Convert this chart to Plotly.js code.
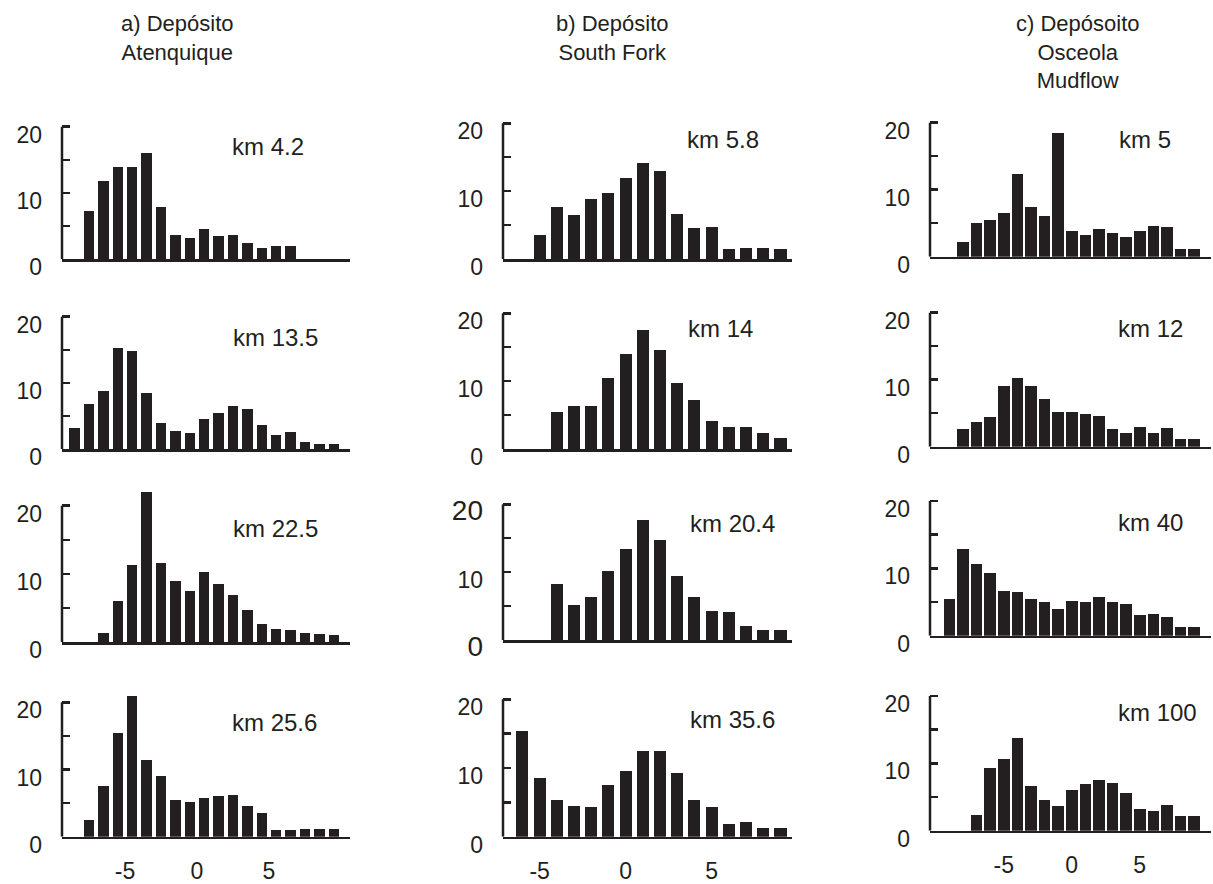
<!DOCTYPE html>
<html><head><meta charset="utf-8">
<script src="https://cdn.plot.ly/plotly-3.0.1.min.js"></script>
<style>html,body{margin:0;padding:0;background:#fff}</style>
</head><body><div id="chart" style="width:1213px;height:884px"></div>
<script>
// ---- data: grain-size classes (phi) and frequencies (%) ----
const phiA1 = [-7.5,-6.5,-5.5,-4.5,-3.5,-2.5,-1.5,-0.5,0.5,1.5,2.5,3.5,4.5,5.5,6.5];
const freqA1 = [7.2,11.8,13.9,13.9,16.0,7.9,3.7,3.1,4.5,3.5,3.6,2.4,1.6,1.9,1.9];
const phiA2 = [-8.5,-7.5,-6.5,-5.5,-4.5,-3.5,-2.5,-1.5,-0.5,0.5,1.5,2.5,3.5,4.5,5.5,6.5,7.5,8.5,9.5];
const freqA2 = [3.2,6.8,8.8,15.2,14.8,8.5,3.9,2.7,2.4,4.5,5.4,6.5,6.1,3.7,2.1,2.5,1.0,0.8,0.7];
const phiA3 = [-6.5,-5.5,-4.5,-3.5,-2.5,-1.5,-0.5,0.5,1.5,2.5,3.5,4.5,5.5,6.5,7.5,8.5,9.5];
const freqA3 = [1.3,6.0,11.3,22.0,11.6,9.0,7.5,10.3,8.6,6.9,4.7,2.7,2.0,1.8,1.3,1.2,1.0];
const phiA4 = [-7.5,-6.5,-5.5,-4.5,-3.5,-2.5,-1.5,-0.5,0.5,1.5,2.5,3.5,4.5,5.5,6.5,7.5,8.5,9.5];
const freqA4 = [2.5,7.6,15.4,21.0,11.4,9.0,5.4,5.1,5.7,6.0,6.2,4.5,3.6,1.0,1.0,1.1,1.1,1.2];

const phiB1 = [-5,-4,-3,-2,-1,0,1,2,3,4,5,6,7,8,9];
const freqB1 = [3.6,7.7,6.5,8.8,9.8,12.0,14.1,13.0,6.6,4.6,4.7,1.5,1.6,1.6,1.5];
const phiB2 = [-4,-3,-2,-1,0,1,2,3,4,5,6,7,8,9];
const freqB2 = [5.4,6.3,6.4,10.4,14.0,17.5,14.6,9.7,7.2,4.2,3.2,3.3,2.4,1.6];
const phiB3 = [-4,-3,-2,-1,0,1,2,3,4,5,6,7,8,9];
const freqB3 = [8.3,5.2,6.3,10.2,13.4,17.7,14.8,9.5,6.3,4.3,4.1,2.1,1.5,1.5];
const phiB4 = [-6,-5,-4,-3,-2,-1,0,1,2,3,4,5,6,7,8,9];
const freqB4 = [15.4,8.5,5.3,4.4,4.3,7.5,9.5,12.5,12.5,9.3,5.4,4.3,1.9,2.1,1.2,1.2];

const phiC1 = [-8,-7,-6,-5,-4,-3,-2,-1,0,1,2,3,4,5,6,7,8,9];
const freqC1 = [2.2,5.1,5.5,6.5,12.3,7.4,6.1,18.4,3.8,3.2,4.2,3.5,3.0,3.8,4.6,4.4,1.1,1.1];
const phiC2 = [-8,-7,-6,-5,-4,-3,-2,-1,0,1,2,3,4,5,6,7,8,9];
const freqC2 = [2.6,3.7,4.4,9.1,10.2,9.1,7.1,5.2,5.2,4.9,4.6,2.6,2.1,2.9,2.0,2.8,1.1,1.1];
const phiC3 = [-9,-8,-7,-6,-5,-4,-3,-2,-1,0,1,2,3,4,5,6,7,8,9];
const freqC3 = [5.4,12.9,10.7,9.3,6.6,6.5,5.5,5.0,4.0,5.1,5.0,5.8,5.0,4.7,3.1,3.2,2.8,1.3,1.3];
const phiC4 = [-7,-6,-5,-4,-3,-2,-1,0,1,2,3,4,5,6,7,8,9];
const freqC4 = [2.3,9.3,10.6,13.7,6.7,4.5,3.7,6.0,7.0,7.5,7.1,5.6,3.2,2.9,3.8,2.2,2.2];

const kmLabels = ["km 4.2","km 13.5","km 22.5","km 25.6",
                  "km 5.8","km 14","km 20.4","km 35.6",
                  "km 5","km 12","km 40","km 100"];
const columnTitles = ["a) Depósito<br>Atenquique","b) Depósito<br>South Fork","c) Depósoito<br>Osceola<br>Mudflow"];
const yTickVals = [0,5,10,15,20];
const yTickText = ["0","","10","","20"];
const xTickVals = [-5,0,5];
const xTickText = ["-5","0","5"];

const series = [
  [phiA1,freqA1],[phiA2,freqA2],[phiA3,freqA3],[phiA4,freqA4],
  [phiB1,freqB1],[phiB2,freqB2],[phiB3,freqB3],[phiB4,freqB4],
  [phiC1,freqC1],[phiC2,freqC2],[phiC3,freqC3],[phiC4,freqC4]
];

// ---- layout geometry (pixels) ----
const W = 1213, H = 884;
const FONT = "Liberation Sans, Arial, sans-serif";
const INK = "#231f20";
const YMAX = 20, YTOP = 23;   // axis drawn to 20, room above for taller bars
const cols = [
  {x:[62,350],  range:[-9.375,10.625], bw:0.72, rows:[[126.7,259],[316.7,449],[505.7,642.3],[702.3,836.7]],
   km:[[268,147],[275,337],[275,528],[274,722]], title:[177,9]},
  {x:[503,792], range:[-7.13,9.67], bw:0.70, rows:[[123.3,259],[313.3,449],[504.3,640],[699.3,836.7]],
   km:[[723,139],[720,328],[732,523],[732,719]], title:[612,9]},
  {x:[930,1211],range:[-10.42,10.24], bw:0.85, rows:[[122.7,256.7],[312.7,446.7],[501,635.7],[696,830.7]],
   km:[[1145,139],[1150,328],[1150,522],[1157,712]], title:[1078,9]}
];
const bigEndLabelsPanel = 7; // panel b3 has larger "0" and "20" labels
const fx = p => p / W;
const fy = p => 1 - p / H;

const traces = [];
const layout = {
  width: W, height: H,
  margin: {l:0, r:0, t:0, b:0},
  paper_bgcolor: "#fff", plot_bgcolor: "rgba(0,0,0,0)",
  showlegend: false,
  font: {family: FONT, color: INK},
  annotations: [], shapes: [],
  bargap: 0
};

let idx = 0;
cols.forEach((c, ci) => {
  layout.annotations.push({
    xref:"paper", yref:"paper", x: fx(c.title[0]), y: fy(c.title[1]),
    xanchor:"center", yanchor:"top", showarrow:false, align:"center",
    text: columnTitles[ci], font:{size:22, family:FONT, color:INK}
  });
  c.rows.forEach((r, ri) => {
    idx++;
    const sfx = idx === 1 ? "" : String(idx);
    const [xs, ys] = series[idx-1];
    traces.push({
      type:"bar", x: xs, y: ys, xaxis:"x"+sfx, yaxis:"y"+sfx,
      width: c.bw, marker:{color:INK, line:{width:0}}, hoverinfo:"x+y"
    });
    const bottom = ri === 3;
    const topPx = r[1] - (r[1]-r[0]) * YTOP / YMAX;
    layout["xaxis"+sfx] = {
      domain:[fx(c.x[0]), fx(c.x[1])], range:c.range, anchor:"y"+sfx,
      showline:true, linewidth:2.5, linecolor:INK, showgrid:false, zeroline:false,
      ticks:"", tickvals:xTickVals, ticktext:xTickText, showticklabels:bottom,
      ticklabelstandoff: 12, tickfont:{size:23, family:FONT, color:INK}, fixedrange:true
    };
    let tt = yTickText.slice();
    if (idx === bigEndLabelsPanel) {
      tt = tt.map((t,k) => (k===0||k===4) ? "<span style='font-size:28px'>"+t+"</span>" : t);
    }
    layout["yaxis"+sfx] = {
      domain:[fy(r[1]), fy(topPx)], range:[0,YTOP], anchor:"x"+sfx,
      showline:false, showgrid:false, zeroline:false,
      ticks:"inside", ticklen:8, tickwidth:2.5, tickcolor:INK,
      tickvals:yTickVals, ticktext:tt, ticklabelshift:8, ticklabelstandoff:19,
      tickfont:{size:23, family:FONT, color:INK}, fixedrange:true
    };
    // the y axis line only spans 0..20
    layout.shapes.push({
      type:"line", xref:"x"+sfx+" domain", yref:"y"+sfx,
      x0:0, x1:0, y0:0, y1:YMAX, line:{color:INK, width:2.5}
    });
    layout.annotations.push({
      xref:"paper", yref:"paper", x: fx(c.km[ri][0]), y: fy(c.km[ri][1]),
      xanchor:"center", yanchor:"middle", showarrow:false,
      text: kmLabels[idx-1], font:{size:24, family:FONT, color:INK}
    });
  });
});

Plotly.newPlot("chart", traces, layout, {displayModeBar:false, staticPlot:true});
</script>
</body></html>
